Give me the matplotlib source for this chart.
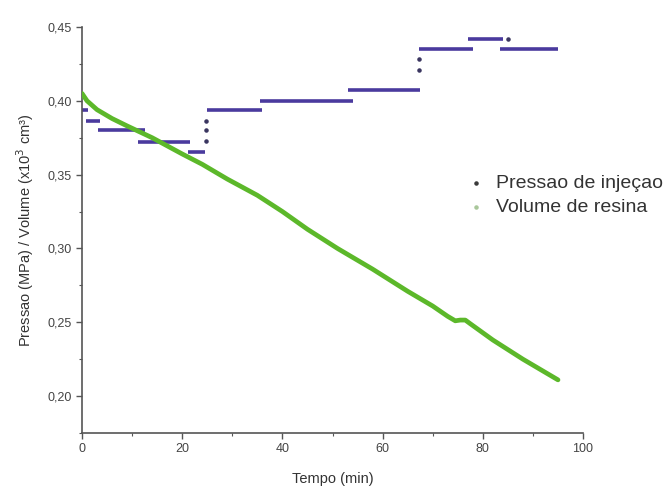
import matplotlib
matplotlib.use('Agg')
import matplotlib.pyplot as plt
from matplotlib.ticker import MultipleLocator, FuncFormatter

plt.rcParams['font.family'] = ['Liberation Sans', 'DejaVu Sans']

# pressao de injecao: horizontal steps (start, end, level) + isolated points
step_start = [0.0, 0.8, 3.2, 11.2, 21.2, 25.0, 35.5, 53.0, 67.3, 77.0, 83.5]
step_end   = [1.2, 3.6, 12.6, 21.6, 24.5, 36.0, 54.0, 67.5, 78.0, 84.0, 95.0]
step_level = [0.394, 0.386, 0.380, 0.372, 0.365, 0.394, 0.400, 0.407, 0.435, 0.442, 0.435]
dot_t = [24.8, 24.8, 24.8, 67.3, 67.3, 85.0]
dot_p = [0.373, 0.380, 0.386, 0.421, 0.428, 0.442]

# volume de resina
vol_t = [0, 1, 3, 6, 9, 14, 20, 24, 29, 35, 40, 45, 51, 58, 65, 70, 73, 74.5, 75.5, 76.5, 77.5, 82, 88, 95]
vol_v = [0.405, 0.400, 0.394, 0.388, 0.383, 0.375, 0.364, 0.357, 0.347, 0.336, 0.325, 0.313,
         0.300, 0.286, 0.271, 0.261, 0.254, 0.251, 0.2515, 0.2515, 0.249, 0.238, 0.225, 0.211]

purple = '#4a3a9e'
green = '#5cb82a'

fig = plt.figure(figsize=(6.7, 4.91), dpi=100)
ax = fig.add_axes([0.1224, 0.1181, 0.7478, 0.8269])

ax.plot(vol_t, vol_v, color=green, lw=3.4, solid_capstyle='round', zorder=3)
ax.hlines(step_level, step_start, step_end, color=purple, lw=2.6, zorder=2)
ax.scatter(dot_t, dot_p, s=5, color='#3a3560', zorder=2)

# legend proxies
ax.scatter([], [], s=5, color='#3a3a3a', label='Pressao de injeçao')
ax.scatter([], [], s=5, color='#a9c79a', label='Volume de resina')
ax.legend(loc='upper left', bbox_to_anchor=(0.752, 0.655), frameon=False, fontsize=14,
          handletextpad=0.5, labelspacing=0.3, handlelength=1.0, markerscale=1.0,
          labelcolor='#333333', borderaxespad=0)

ax.set_xlim(0, 100)
ax.set_ylim(0.175, 0.45)
ax.xaxis.set_major_locator(MultipleLocator(20))
ax.xaxis.set_minor_locator(MultipleLocator(10))
ax.yaxis.set_major_locator(MultipleLocator(0.05))
ax.yaxis.set_minor_locator(MultipleLocator(0.025))
ax.yaxis.set_major_formatter(FuncFormatter(lambda v, p: ('%.2f' % v).replace('.', ',')))

for s in ['top', 'right']:
    ax.spines[s].set_visible(False)
for s in ['left', 'bottom']:
    ax.spines[s].set_color('#555555')
    ax.spines[s].set_linewidth(1.2)

ax.tick_params(which='major', direction='out', length=4, width=1, colors='#555555',
               labelsize=9, labelcolor='#444444')
ax.tick_params(which='minor', direction='out', length=2.5, width=0.8, colors='#555555')

ax.set_xlabel('Tempo (min)', fontsize=10.5, color='#333333', labelpad=12)
ax.set_ylabel('Pressao (MPa) / Volume (x10$^{3}$ cm³)', fontsize=10.5, color='#333333', labelpad=8)

fig.savefig('out.png', dpi=100)
